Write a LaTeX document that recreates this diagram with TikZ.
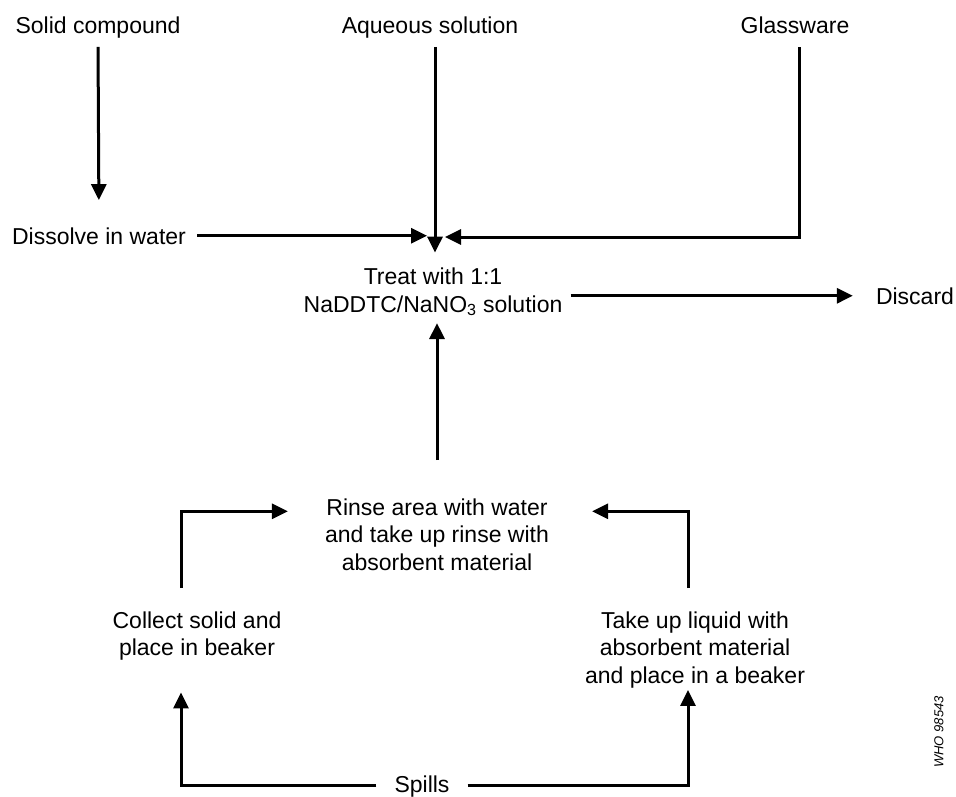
\documentclass[tikz,border=0pt]{standalone}
\usepackage{fontspec}
\setmainfont{Liberation Sans}
\usetikzlibrary{arrows.meta}

\begin{document}
\begin{tikzpicture}[x=1pt,y=-1pt,
  txt/.style={anchor=base, inner sep=2pt, align=center, font=\fontsize{23}{27.5}\selectfont},
  arr/.style={line width=3pt, -{Triangle[length=16pt,width=15pt]}}]
\useasboundingbox (0,0) rectangle (956,797);
% sources
\node[txt] (solid) at (98,34) {Solid compound};
\node[txt] (aqueous) at (430,34) {Aqueous solution};
\node[txt] (glass) at (795,34) {Glassware};
\node[txt] (dissolve) at (99,244) {Dissolve in water};
% treatment
\node[txt] (treat) at (433,312) {Treat with 1:1\\NaDDTC/NaNO\textsubscript{3} solution};
\node[txt] (discard) at (915,304) {Discard};
\coordinate (hub) at (435,237);
% spills
\node[txt] (rinse) at (437,570) {Rinse area with water\\and take up rinse with\\absorbent material};
\node[txt] (collect) at (197,655.5) {Collect solid and\\place in beaker};
\node[txt] (liquid) at (695,683) {Take up liquid with\\absorbent material\\and place in a beaker};
\node[txt] (spills) at (422,792) {Spills};
\node[rotate=90, inner sep=0pt, font=\fontsize{13}{15}\selectfont\itshape] (who) at (939,732) {WHO 98543};

\draw[arr, shorten <=6pt, shorten >=25pt] (solid.south) -- (dissolve.north);
\draw[arr, shorten <=6pt, shorten >=13pt] (aqueous.south -| hub) -- (treat.north -| hub);
\draw[arr, shorten <=9pt, shorten >=8pt] (dissolve.east) -- (dissolve.east -| hub);
\draw[arr, shorten <=11pt, shorten >=10pt] ([xshift=4pt]glass.south) |- (hub);
\draw[arr, shorten <=6pt, shorten >=21pt] (treat.east |- discard.west) -- (discard.west);
\draw[arr, shorten <=36pt] (rinse.north) -- ([yshift=-5pt]rinse.north |- treat.south);
\draw[arr, shorten <=21pt, shorten >=35pt] ([xshift=-16pt]collect.north) |- ([yshift=23pt]rinse.west);
\draw[arr, shorten <=21pt, shorten >=41pt] ([xshift=-7pt]liquid.north) |- ([yshift=23pt]rinse.east);
\draw[arr, shorten <=16pt, shorten >=30pt] ([yshift=1pt]spills.west) -| ([xshift=-16pt]collect.south);
\draw[arr, shorten <=16pt] ([yshift=1pt]spills.east) -| ([xshift=-7pt]liquid.south);
\end{tikzpicture}
\end{document}
